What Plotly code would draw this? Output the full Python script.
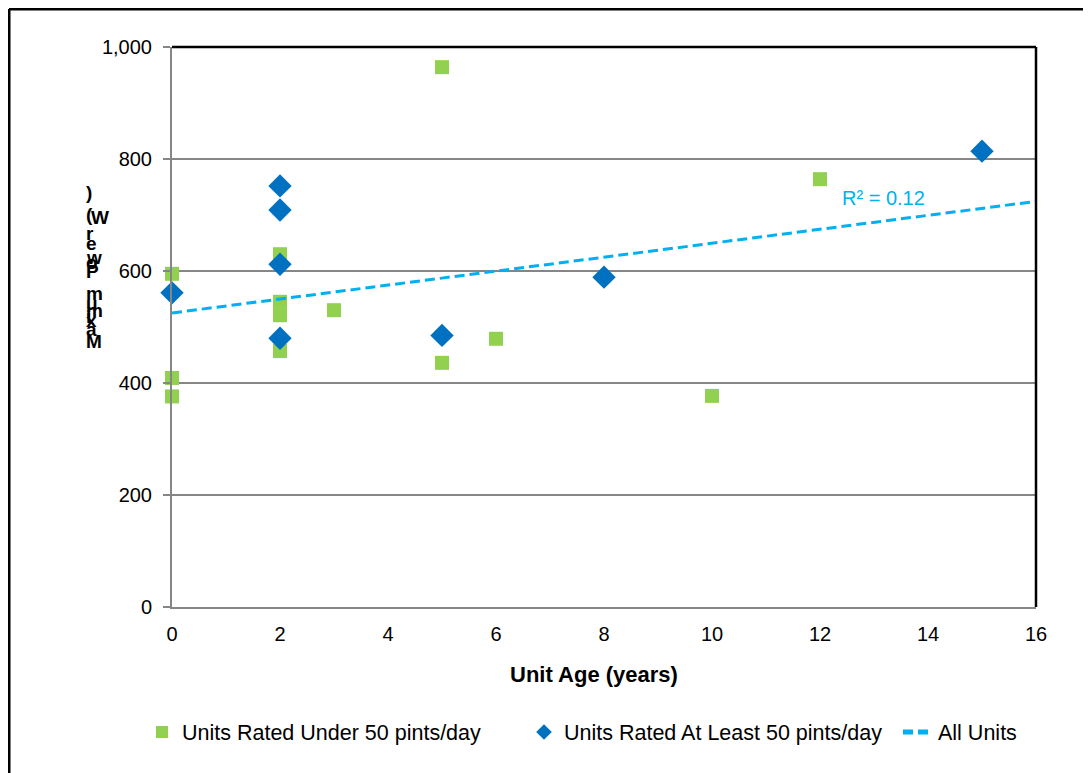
import numpy as np
import plotly.graph_objects as go

# ---- data ----
under_age = [0, 0, 0, 2, 2, 2, 2, 3, 5, 5, 6, 10, 12]
under_power = [595, 409, 376, 630, 545, 521, 457, 530, 964, 436, 479, 377, 764]
atleast_age = [0, 2, 2, 2, 2, 5, 8, 15]
atleast_power = [561, 752, 709, 612, 480, 485, 589, 814]
series_names = ["Units Rated Under 50 pints/day", "Units Rated At Least 50 pints/day", "All Units"]
x_title = "Unit Age (years)"
y_title = "Maximum Power (W)"
r2_label = "R² = 0.12"

# ---- trend line from all units ----
all_x = np.array(under_age + atleast_age, dtype=float)
all_y = np.array(under_power + atleast_power, dtype=float)
slope, intercept = np.polyfit(all_x, all_y, 1)
trend_x = np.array([0.0, 16.0])
trend_y = slope * trend_x + intercept

FONT = "Arial, 'Liberation Sans', sans-serif"
GREEN = "#92D050"
BLUE = "#0070C0"
CYAN = "#00B0F0"
GRID = "#868686"

fig = go.Figure()
fig.add_trace(go.Scatter(x=under_age, y=under_power, mode="markers", name=series_names[0],
                         cliponaxis=False, legend="legend",
                         marker=dict(symbol="square", size=14, color=GREEN)))
fig.add_trace(go.Scatter(x=atleast_age, y=atleast_power, mode="markers", name=series_names[1],
                         cliponaxis=False, legend="legend2",
                         marker=dict(symbol="diamond", size=18, color=BLUE)))
fig.add_trace(go.Scatter(x=trend_x, y=trend_y, mode="lines", name=series_names[2],
                         cliponaxis=False, legend="legend3",
                         line=dict(color=CYAN, width=3, dash="10px,5px")))

# page body has an 8px margin; work in screen pixels and offset
OFF = 8
SL, SR, ST, SB = 172, 1036, 47, 607   # plot area in screen pixels
W, H = 1091 - OFF, 773 - OFF
L, T = SL - OFF, ST - OFF
pw, ph = SR - SL, SB - ST
R = W - L - pw
B = H - T - ph

def px(xs):
    return (xs - SL) / pw

def py(ys):
    return (SB - ys) / ph

annotations = []
# x-axis title
annotations.append(dict(text="<b>" + x_title + "</b>", x=px(594), y=py(674), xref="paper", yref="paper",
                        showarrow=False, xanchor="center", yanchor="middle",
                        font=dict(family=FONT, size=22, color="black")))
# y-axis title rendered as stacked characters (bottom to top)
char_pos = [341, 329, 320, 316, 310, 303, 293, 282, 271, 263, 257, 243, 233, 225, 214, 217, 193]
for ch, ys in zip(y_title, char_pos):
    if ch == " ":
        continue
    xl = 89 if ch == "W" else 84
    annotations.append(dict(text="<b>" + ch + "</b>", x=px(xl), y=py(ys), xref="paper", yref="paper",
                            showarrow=False, xanchor="left", yanchor="middle",
                            font=dict(family=FONT, size=19, color="black")))
# R² label
annotations.append(dict(text=r2_label, x=12.37, y=730, xref="x", yref="y",
                        showarrow=False, xanchor="left", yanchor="middle",
                        font=dict(family=FONT, size=20, color=CYAN)))

shapes = [
    # plot area top and right borders (black)
    dict(type="line", xref="paper", yref="paper", x0=0, x1=1, y0=1, y1=1, line=dict(color="black", width=2.5)),
    dict(type="line", xref="paper", yref="paper", x0=1, x1=1, y0=0, y1=1, line=dict(color="black", width=2.5)),
    # outer chart border (top and left visible)
    dict(type="line", xref="paper", yref="paper", x0=px(9), x1=px(1100), y0=py(9), y1=py(9), line=dict(color="black", width=3)),
    dict(type="line", xref="paper", yref="paper", x0=px(9), x1=px(9), y0=py(9), y1=py(790), line=dict(color="black", width=3)),
]

LEG_FONT = dict(family=FONT, size=21.5, color="black")

def leg(xs):
    return dict(orientation="h", x=px(xs), y=py(732), xanchor="left", yanchor="middle",
                font=LEG_FONT, itemsizing="constant", itemwidth=30,
                bgcolor="rgba(0,0,0,0)", borderwidth=0)

fig.update_layout(
    width=W, height=H,
    margin=dict(l=L, r=R, t=T, b=B, pad=0),
    paper_bgcolor="white", plot_bgcolor="white",
    font=dict(family=FONT, size=20, color="black"),
    showlegend=True,
    legend=leg(142),
    legend2=leg(524),
    legend3=leg(898),
    annotations=annotations,
    shapes=shapes,
    xaxis=dict(range=[0, 16], dtick=2, tick0=0, showgrid=False, zeroline=False,
               showline=True, linecolor=GRID, linewidth=2, ticks="", ticklabelstandoff=8,
               tickfont=dict(family=FONT, size=20, color="black")),
    yaxis=dict(range=[0, 1000], dtick=200, tick0=0, tickformat=",", showgrid=True,
               gridcolor=GRID, gridwidth=2, zeroline=False,
               showline=True, linecolor=GRID, linewidth=2, ticks="outside", ticklen=7,
               tickcolor=GRID, tickwidth=2, ticklabelstandoff=7,
               tickfont=dict(family=FONT, size=20, color="black")),
)

fig.write_html("out.html")
